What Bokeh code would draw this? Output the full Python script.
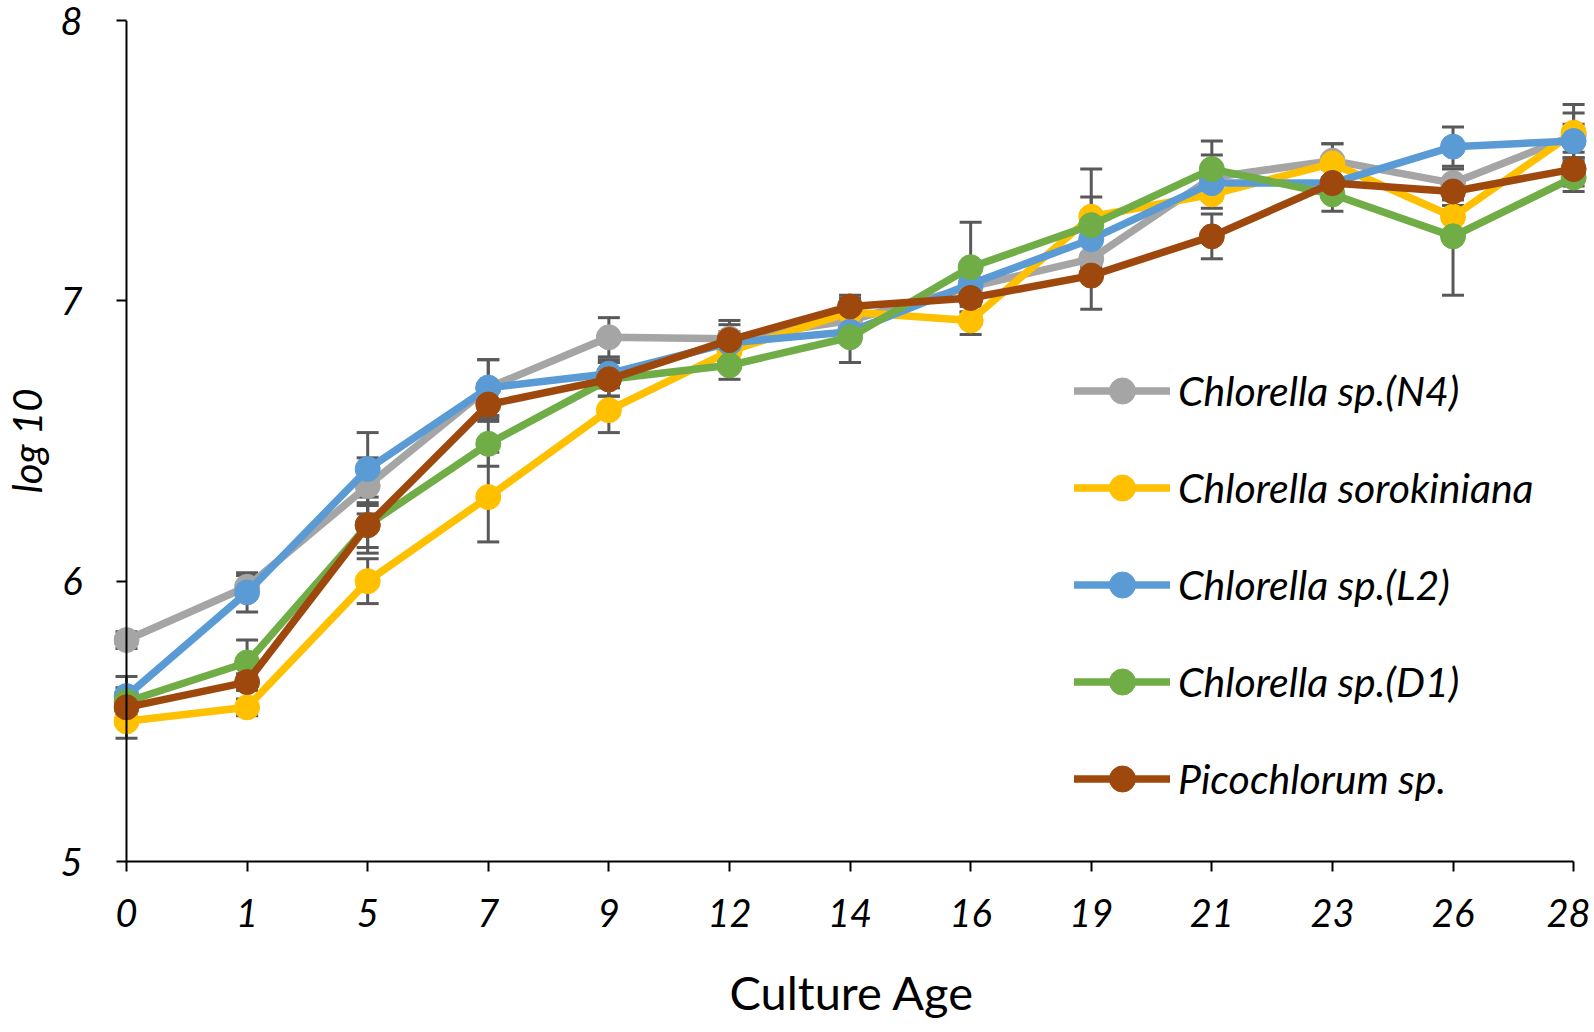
from bokeh.plotting import figure
from bokeh.models import (ColumnDataSource, Whisker, TeeHead, FixedTicker, Range1d,
                          Legend, LegendItem, Span)
from bokeh.embed import file_html
from bokeh.resources import INLINE

days = ["0", "1", "5", "7", "9", "12", "14", "16", "19", "21", "23", "26", "28"]
series_names = ["Chlorella sp.(N4)", "Chlorella sorokiniana", "Chlorella sp.(L2)",
                "Chlorella sp.(D1)", "Picochlorum sp."]

n4 = [5.79, 5.98, 6.34, 6.69, 6.87, 6.865, 6.93, 7.05, 7.15, 7.44, 7.50, 7.42, 7.59]
sorokiniana = [5.50, 5.55, 6.00, 6.30, 6.61, 6.82, 6.96, 6.93, 7.30, 7.38, 7.49, 7.30, 7.60]
l2 = [5.59, 5.96, 6.40, 6.69, 6.74, 6.85, 6.89, 7.06, 7.22, 7.42, 7.42, 7.55, 7.57]
d1 = [5.57, 5.71, 6.20, 6.49, 6.72, 6.77, 6.87, 7.12, 7.27, 7.47, 7.38, 7.23, 7.44]
pico = [5.55, 5.64, 6.20, 6.63, 6.72, 6.86, 6.98, 7.01, 7.09, 7.23, 7.42, 7.39, 7.47]

n4_err = [0.03, 0.04, 0.10, 0.10, 0.07, 0.05, 0.05, 0.06, 0.05, 0.08, 0.06, 0.05, 0.08]
sorokiniana_err = [0.06, 0.03, 0.08, 0.16, 0.08, 0.04, 0.05, 0.05, 0.17, 0.05, 0.07, 0.06, 0.10]
l2_err = [0.07, 0.07, 0.13, 0.10, 0.05, 0.04, 0.04, 0.05, 0.10, 0.05, 0.05, 0.07, 0.06]
d1_err = [0.05, 0.08, 0.10, 0.08, 0.06, 0.05, 0.09, 0.16, 0.10, 0.10, 0.06, 0.21, 0.05]
pico_err = [0.04, 0.03, 0.08, 0.05, 0.06, 0.07, 0.04, 0.05, 0.12, 0.08, 0.05, 0.05, 0.06]

colors = ["#A5A5A5", "#FFC000", "#5B9BD5", "#70AD47", "#9E480E"]
y_ticks = [5, 6, 7, 8]
x_title = "Culture Age"
y_title = "log 10"

FONT = "Lato"
xs = list(range(len(days)))

p = figure(width=1590, height=1032, output_backend="svg", toolbar_location=None,
           x_range=Range1d(-0.1077, 12.14), y_range=Range1d(5, 8),
           min_border_left=112, min_border_right=0, min_border_top=20,
           min_border_bottom=171)
p.outline_line_color = None
p.xgrid.visible = False
p.ygrid.visible = False
p.background_fill_color = "white"
p.border_fill_color = "white"

# axes
p.xaxis.bounds = (0, len(days) - 1)
p.xaxis.ticker = FixedTicker(ticks=xs)
p.xaxis.major_label_overrides = {i: d for i, d in enumerate(days)}
p.yaxis.ticker = FixedTicker(ticks=y_ticks)
for ax in (p.xaxis[0], p.yaxis[0]):
    ax.axis_line_color = "black"
    ax.axis_line_width = 2
    ax.major_tick_line_color = "black"
    ax.major_tick_line_width = 2
    ax.minor_tick_line_color = None
    ax.major_label_text_font = FONT
    ax.major_label_text_font_style = "italic"
    ax.major_label_text_font_size = "38px"
    ax.major_label_text_color = "black"
    ax.axis_label_text_font = FONT
    ax.axis_label_text_color = "black"

p.xaxis.major_tick_in = 0
p.xaxis.major_tick_out = 10
p.xaxis.major_label_standoff = 27
p.xaxis.axis_label = x_title
p.xaxis.axis_label_text_font_style = "normal"
p.xaxis.axis_label_text_font_size = "47px"
p.xaxis.axis_label_standoff = 34

# y axis sits at x = 0 (inside the frame padding): ticks shifted inward
p.yaxis.axis_line_color = None
p.yaxis.major_tick_in = 13
p.yaxis.major_tick_out = -3
p.yaxis.major_label_standoff = 31
p.yaxis.axis_label = y_title
p.yaxis.axis_label_text_font_style = "italic"
p.yaxis.axis_label_text_font_size = "40px"
p.yaxis.axis_label_standoff = 6
p.add_layout(Span(location=0, dimension="height", line_color="black", line_width=2))

all_vals = [n4, sorokiniana, l2, d1, pico]
all_errs = [n4_err, sorokiniana_err, l2_err, d1_err, pico_err]

# error bars first (behind)
for vals, errs in zip(all_vals, all_errs):
    src = ColumnDataSource(dict(x=xs, upper=[v + e for v, e in zip(vals, errs)],
                                lower=[v - e for v, e in zip(vals, errs)]))
    w = Whisker(base="x", upper="upper", lower="lower", source=src,
                line_color="#595959", line_width=3, level="underlay",
                upper_head=TeeHead(size=22, line_color="#595959", line_width=3),
                lower_head=TeeHead(size=22, line_color="#595959", line_width=3))
    p.add_layout(w)

items = []
for name, vals, col in zip(series_names, all_vals, colors):
    src = ColumnDataSource(dict(x=xs, y=vals))
    lr = p.line("x", "y", source=src, line_color=col, line_width=7.5,
                line_join="round", line_cap="round")
    sr = p.scatter("x", "y", source=src, size=25, marker="circle",
                   fill_color=col, line_color=col)
    items.append(LegendItem(label=name, renderers=[lr, sr]))

legend = Legend(items=items, location=(961, 50), orientation="vertical",
                glyph_width=96, glyph_height=65, spacing=32, padding=0, margin=0,
                label_standoff=8, label_text_font=FONT, label_text_font_style="italic",
                label_text_font_size="41px", label_text_color="black",
                border_line_color=None, background_fill_alpha=0)
p.add_layout(legend, "center")

open("out.html", "w").write(file_html(p, INLINE))
